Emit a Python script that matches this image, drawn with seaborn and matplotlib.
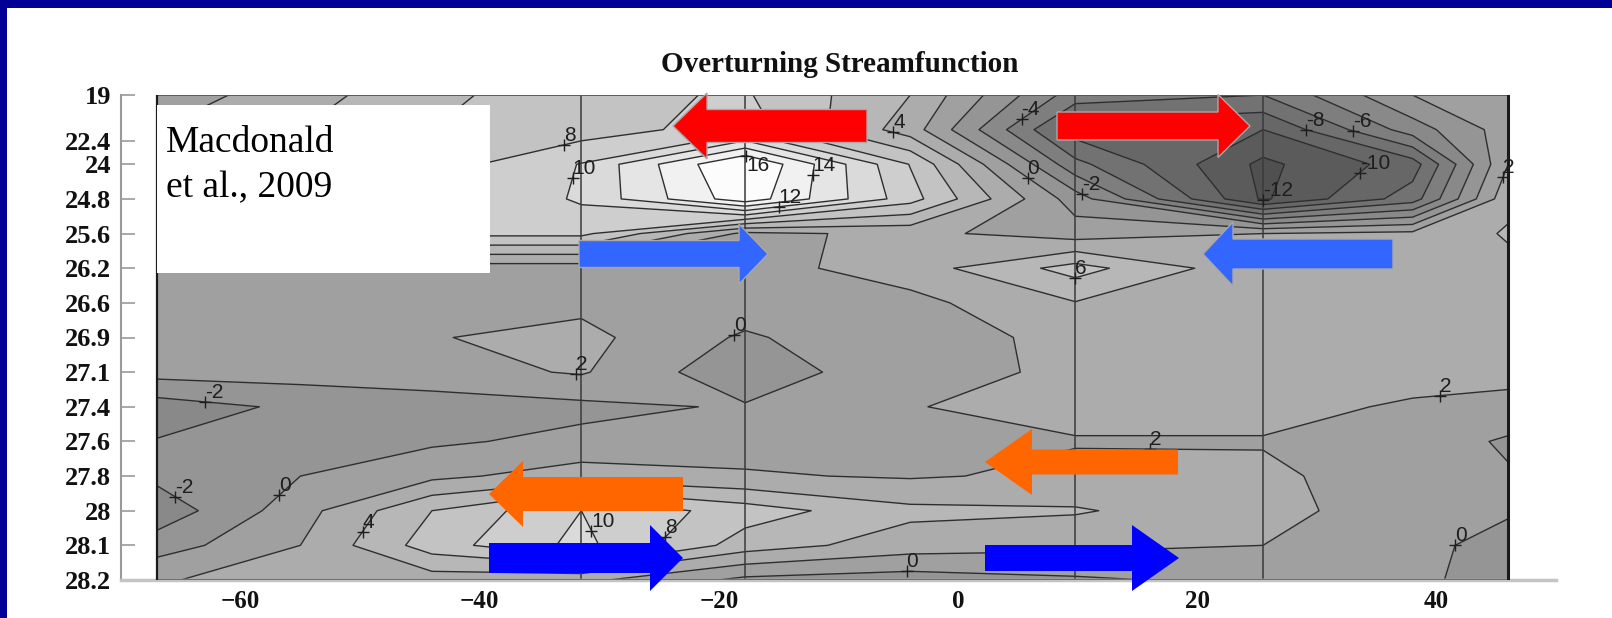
import numpy as np
import matplotlib
matplotlib.use("Agg")
import matplotlib.pyplot as plt
from matplotlib.colors import ListedColormap, BoundaryNorm
from matplotlib.patches import Polygon, Rectangle
import seaborn as sns

# ---- data: overturning streamfunction (Sv) on longitude x density-layer grid ----
lon = [-67.0, -55.0, -44.0, -31.5, -17.8, -4.0, 9.8, 25.5, 38.0, 46.0]
density_labels = ["19", "22.4", "24", "24.8", "25.6", "26.2", "26.6", "26.9",
                  "27.1", "27.4", "27.6", "27.8", "28", "28.1", "28.2"]
density_tick_pos = [0, 1.33, 2, 3, 4, 5, 6, 7, 8, 9, 10, 11, 12, 13, 14]
layer = list(range(15))

psi_19 = [0.8, 3.2, 5.4, 7.5, 8.2, 4.0, -5.0, -6.0, 0.0, 1.0]
psi_224 = [2.0, 4.0, 6.0, 7.0, 9.0, 3.0, -9.0, -10.0, -3.0, 1.0]
psi_240 = [3.0, 5.0, 7.0, 10.1, 18.4, 7.9, -5.4, -12.5, -9.0, 2.0]
psi_248 = [4.0, 6.0, 7.3, 10.3, 17.3, 8.8, -1.0, -12.3, -7.0, 3.5]
psi_256 = [7.0, 8.0, 8.5, 8.5, 1.5, 2.5, 1.0, 2.0, 2.5, 4.2]
psi_262 = [1.0, 1.0, 1.0, 1.0, 1.2, 3.0, 6.8, 2.4, 3.0, 3.5]
psi_266 = [1.0, 1.0, 1.3, 1.5, 1.2, 1.4, 3.9, 3.0, 3.0, 3.2]
psi_269 = [1.0, 1.2, 1.9, 2.6, -0.3, 1.8, 2.12, 3.0, 3.0, 3.0]
psi_271 = [0.75, 0.9, 1.2, 2.2, -1.5, 1.7, 2.15, 2.6, 2.6, 2.5]
psi_274 = [-3.0, -1.6, -1.0, -0.5, 0.2, 1.94, 2.5, 2.5, 1.8, 1.5]
psi_276 = [-1.9, -0.8, -0.3, 0.5, 1.2, 1.5, 1.9, 1.9, 1.2, -0.3]
psi_278 = [-1.5, 0.0, 1.5, 3.0, 2.2, 1.8, 2.4, 2.3, 1.2, 0.2]
psi_280 = [-3.3, 1.2, 6.0, 10.0, 7.0, 4.5, 4.2, 2.6, 1.0, 0.3]
psi_281 = [-1.0, 2.0, 7.0, 10.6, 5.0, 3.0, 2.5, 2.0, 0.8, -1.0]
psi_282 = [1.9, 2.5, 3.0, 2.5, -0.5, -1.0, -0.3, 0.5, 0.5, -1.0]

section_lon = [-31.5, -17.8, 9.8, 25.5]

psi = np.array([psi_19, psi_224, psi_240, psi_248, psi_256, psi_262, psi_266,
                psi_269, psi_271, psi_274, psi_276, psi_278, psi_280, psi_281,
                psi_282])

W, H = 1612, 618
sns.set_theme(style="white")
plt.rcParams["font.family"] = ["Liberation Serif", "DejaVu Serif"]
plt.rcParams["contour.negative_linestyle"] = "solid"

fig = plt.figure(figsize=(W / 100, H / 100), dpi=100)
fig.patch.set_facecolor("white")


def fx(px):
    return px / W


def fy(py):
    return 1 - py / H


ax = fig.add_axes([fx(121), fy(580), fx(1556) - fx(121), fy(95) - fy(580)])
ax.set_facecolor("white")

# grey shading: dark for negative, light for positive transport
fill_levels = np.arange(-14, 22, 2)
greys = sns.blend_palette(["#505050", "#fcfcfc"], n_colors=16)
greys = list(greys) + [greys[-1]]
cmap = ListedColormap(greys)
norm = BoundaryNorm(fill_levels, cmap.N)
ax.contourf(lon, layer, psi, levels=fill_levels, cmap=cmap, norm=norm, zorder=1)

line_levels = np.arange(-12, 18, 2)
cs = ax.contour(lon, layer, psi, levels=line_levels, colors="#2e2e2e",
                linewidths=1.0, linestyles="solid", zorder=2)

label_points = [(-33.0, 1.4), (-31.3, 2.5), (-17.8, 1.9), (-12.5, 2.3),
                (-15.0, 3.2), (-5.5, 1.2), (5.6, 0.87), (5.6, 2.5),
                (10.2, 3.0), (29.0, 1.1), (33.0, 1.1), (33.5, 2.2),
                (25.5, 3.0), (45.9, 2.4), (9.8, 5.3), (-31.8, 7.5),
                (-18.8, 6.9), (-63.0, 9.0), (-65.5, 11.6), (-56.7, 11.6),
                (-49.8, 12.6), (-30.8, 12.6), (-24.7, 12.7), (16.0, 10.6),
                (40.3, 8.6), (40.6, 12.6), (-4.3, 13.9)]
texts = ax.clabel(cs, manual=label_points, inline=False, fontsize=15,
                  fmt="%d", colors="#1e1e1e")
for t in texts:
    x, y = t.get_position()
    ax.plot(x, y, marker="+", ms=9, mew=1.0, color="#1e1e1e", zorder=3)
    t.set_rotation(0)
    t.set_ha("left")
    t.set_va("top" if t.get_text() == "16" else "bottom")
    t.set_fontfamily("Liberation Sans")

# section boundaries
ax.vlines(section_lon, layer[0], layer[-1], colors="#3a3a3a", linewidth=1.1, zorder=2)

# outline of the gridded domain
ax.plot([lon[0], lon[-1]], [layer[0], layer[0]], color="#555555", lw=1.3, zorder=3)
ax.plot([lon[0], lon[-1]], [layer[-1], layer[-1]], color="#707070", lw=1.6, zorder=3)
ax.plot([lon[0], lon[0]], [layer[0], layer[-1]], color="#1a1a1a", lw=1.6, zorder=3)
ax.plot([lon[-1], lon[-1]], [layer[0], layer[-1]], color="#1a1a1a", lw=2.2, zorder=3)

ax.set_xlim(-70, 50)
ax.set_ylim(14, 0)
ax.set_xticks([-60, -40, -20, 0, 20, 40])
ax.set_xticklabels(["\u221260", "\u221240", "\u221220", "0", "20", "40"])
ax.set_yticks(density_tick_pos)
ax.set_yticklabels(density_labels)
for lab in ax.get_yticklabels():
    lab.set_fontfamily("Liberation Serif")
    lab.set_fontweight("bold")
    lab.set_fontsize(19)
    lab.set_color("#111111")
for lab in ax.get_xticklabels():
    lab.set_fontfamily("Liberation Serif")
    lab.set_fontweight("bold")
    lab.set_fontsize(18)
    lab.set_color("#111111")
ax.tick_params(axis="y", direction="in", length=10, width=1.2, color="#9a9a9a", pad=7, left=True)
ax.tick_params(axis="x", length=0, pad=7.5)
for side in ["top", "right"]:
    ax.spines[side].set_visible(False)
ax.spines["left"].set_color("#9a9a9a")
ax.spines["left"].set_linewidth(1.5)
ax.spines["bottom"].set_color("#c4c4c4")
ax.spines["bottom"].set_linewidth(2.5)

fig.text(fx(840), fy(65), "Overturning Streamfunction", ha="center", va="center",
         fontsize=21, fontweight="bold", family="Liberation Serif", color="#111111")

# citation box
fig.add_artist(Rectangle((fx(157), fy(273)), fx(490) - fx(157), fy(105) - fy(273),
                         transform=fig.transFigure, facecolor="white",
                         edgecolor="none", zorder=5))
fig.text(fx(166), fy(152), "Macdonald", fontsize=27, family="Liberation Serif",
         va="baseline", ha="left", color="black", zorder=6)
fig.text(fx(166), fy(197), "et al., 2009", fontsize=27, family="Liberation Serif",
         va="baseline", ha="left", color="black", zorder=6)


def block_arrow(tail, tip, cy, shaft, head, head_len, color, edge="none"):
    d = 1 if tip > tail else -1
    base = tip - d * head_len
    pts = [(tail, cy - shaft), (base, cy - shaft), (base, cy - head), (tip, cy),
           (base, cy + head), (base, cy + shaft), (tail, cy + shaft)]
    pts = [(fx(x), fy(y)) for x, y in pts]
    fig.add_artist(Polygon(pts, closed=True, transform=fig.transFigure,
                           facecolor=color, edgecolor=edge, lw=1.0, zorder=7))


block_arrow(867, 673, 126, 16.5, 33, 34, "#ff0000", "#a8a8a8")
block_arrow(1057, 1250, 126, 14, 31.5, 32, "#ff0000", "#a8a8a8")
block_arrow(579, 768, 254, 13.5, 30, 29, "#3366ff", "#a8a8a8")
block_arrow(1393, 1203, 254, 15, 32, 30, "#3366ff", "#a8a8a8")
block_arrow(683, 489, 494, 17, 33, 34, "#ff6600")
block_arrow(1178, 985, 462, 12.5, 33, 47, "#ff6600")
block_arrow(489, 683, 558, 15, 33, 33, "#0000ff")
block_arrow(985, 1179, 558, 13, 33, 47, "#0000ff")

# slide frame
fig.add_artist(Rectangle((0, fy(8)), 1, fy(0) - fy(8), transform=fig.transFigure,
                         facecolor="#000096", edgecolor="none", zorder=8))
fig.add_artist(Rectangle((0, 0), fx(7), 1, transform=fig.transFigure,
                         facecolor="#000096", edgecolor="none", zorder=8))

fig.savefig("out.png", dpi=100, facecolor="white")
